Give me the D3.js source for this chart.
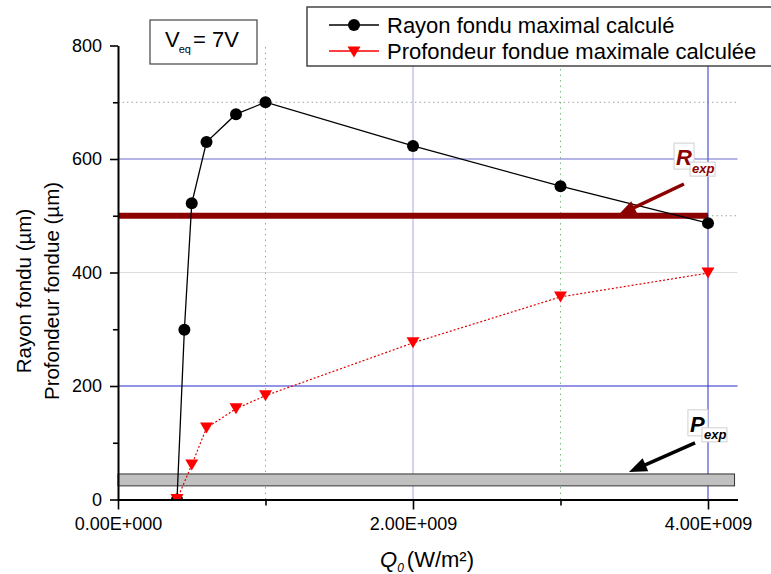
<!DOCTYPE html>
<html><head><meta charset="utf-8">
<script src="https://cdn.jsdelivr.net/npm/d3@7"></script>
<style>body{margin:0;background:#fff} svg{display:block} text{font-family:Arial,"Liberation Sans",sans-serif}</style>
</head><body><svg id="c" width="771" height="574"></svg>
<script>
// ---- data ----
const qRayon = [0.4e9, 0.45e9, 0.5e9, 0.6e9, 0.8e9, 1e9, 2e9, 3e9, 4e9];
const rayon = [0, 299, 522, 630, 679, 700, 623, 552, 487];
const qProf = [0.4e9, 0.5e9, 0.6e9, 0.8e9, 1e9, 2e9, 3e9, 4e9];
const profondeur = [0, 61, 126, 160, 183, 276, 357, 399];
const rExp = 500;          // R_exp level (µm)
const rExpRange = [0, 4e9];
const pExpBand = [24, 45]; // P_exp band (µm)
const pExpRange = [0, 4.18e9];
const xTicks = [0, 2e9, 4e9];
const xTickLabels = ["0.00E+000", "2.00E+009", "4.00E+009"];
const xMinorTicks = [1e9, 3e9];
const yTicks = [0, 200, 400, 600, 800];
const yTickLabels = ["0", "200", "400", "600", "800"];
const yMinorTicks = [100, 300, 500, 700];
const gridBlueY = [200, 600];
const gridGrayY = [400];
const gridDotY = [500, 700];
const gridBlueX = [2e9, 4e9];
const gridGreenX = [1e9, 3e9];
const seriesNames = ["Rayon fondu maximal calculé", "Profondeur fondue maximale calculée"];
// annotation arrows: [x1,y1,x2(tip),y2(tip)] in data units
const rArrow = [3.837e9, 556, 3.39e9, 501];
const pArrow = [3.912e9, 99.6, 3.464e9, 48.5];
const rLabelAt = [3.77e9, 628];
const pLabelAt = [3.864e9, 158];

const svg = d3.select("#c");
const x = d3.scaleLinear().domain([0, 4.2e9]).range([118, 737.5]);
const y = d3.scaleLinear().domain([0, 800]).range([499.5, 45.5]);
const X0 = x.range()[0], X1 = x.range()[1], Y0 = y.range()[0], Y1 = y.range()[1];

svg.append("defs").append("clipPath").attr("id","clip")
  .append("rect").attr("x", X0).attr("y", 0).attr("width", X1 - X0 + 10).attr("height", Y0);

// ---- grid ----
const g = svg.append("g");
g.selectAll(".gy").data(gridDotY).join("line")
  .attr("x1", X0).attr("x2", X1).attr("y1", d => y(d)).attr("y2", d => y(d))
  .attr("stroke", "#9aa79a").attr("stroke-width", 1).attr("stroke-dasharray", "1.5,3");
g.selectAll(".gg").data(gridGrayY).join("line")
  .attr("x1", X0).attr("x2", X1).attr("y1", d => y(d)).attr("y2", d => y(d))
  .attr("stroke", "#dddddd").attr("stroke-width", 1);
g.selectAll(".gx").data(gridGreenX).join("line")
  .attr("y1", Y0).attr("y2", Y1).attr("x1", d => x(d)).attr("x2", d => x(d))
  .attr("stroke", "#7fb87f").attr("stroke-width", 1).attr("stroke-dasharray", "1.5,4");
g.selectAll(".bx").data(gridBlueX).join("line")
  .attr("y1", Y0).attr("y2", Y1).attr("x1", d => x(d)).attr("x2", d => x(d))
  .attr("stroke", (d,i) => i === 0 ? "#b4b4ea" : "#5050d0").attr("stroke-width", 1.2);
g.selectAll(".by").data(gridBlueY).join("line")
  .attr("x1", X0).attr("x2", X1).attr("y1", d => y(d)).attr("y2", d => y(d))
  .attr("stroke", (d,i) => i === 0 ? "#2a2ad0" : "#6a6ad0").attr("stroke-width", 1.2);

// ---- experimental bands ----
svg.append("rect")
  .attr("x", x(pExpRange[0])).attr("width", x(pExpRange[1]) - x(pExpRange[0]))
  .attr("y", y(pExpBand[1])).attr("height", y(pExpBand[0]) - y(pExpBand[1]))
  .attr("fill", "#c0c0c0").attr("stroke", "#333").attr("stroke-width", 1);
svg.append("line")
  .attr("x1", x(rExpRange[0])).attr("x2", x(rExpRange[1]))
  .attr("y1", y(rExp)).attr("y2", y(rExp))
  .attr("stroke", "#8b0000").attr("stroke-width", 6);

// ---- series ----
const plot = svg.append("g").attr("clip-path", "url(#clip)");
const line = d3.line().x(d => x(d[0])).y(d => y(d[1]));
const profData = qProf.map((q, i) => [q, profondeur[i]]);
const rayData = qRayon.map((q, i) => [q, rayon[i]]);
plot.append("path").datum(profData).attr("d", line)
  .attr("fill", "none").attr("stroke", "#e00000").attr("stroke-width", 1.2).attr("stroke-dasharray", "2,2");
plot.append("path").datum(rayData).attr("d", line)
  .attr("fill", "none").attr("stroke", "#000").attr("stroke-width", 1.3);
plot.selectAll(".dot").data(rayData).join("circle")
  .attr("cx", d => x(d[0])).attr("cy", d => y(d[1])).attr("r", 6).attr("fill", "#000");
const tri = (cx, cy, w, h) => `M${cx - w/2},${cy - h/2}L${cx + w/2},${cy - h/2}L${cx},${cy + h/2}Z`;
plot.selectAll(".tri").data(profData).join("path")
  .attr("d", d => tri(x(d[0]), y(d[1]), 13, 11)).attr("fill", "#ff0000");

// ---- axes ----
const ax = svg.append("g");
ax.append("g").attr("transform", `translate(${X0},0)`)
  .call(d3.axisLeft(y).tickValues(yTicks).tickFormat((d,i) => yTickLabels[i]).tickSize(8).tickSizeOuter(0).tickPadding(8));
ax.append("g").attr("transform", `translate(${X0},0)`)
  .call(d3.axisLeft(y).tickValues(yMinorTicks).tickFormat("").tickSize(5).tickSizeOuter(0))
  .select(".domain").remove();
ax.append("g").attr("transform", `translate(0,${Y0})`)
  .call(d3.axisBottom(x).tickValues(xTicks).tickFormat((d,i) => xTickLabels[i]).tickSize(10).tickSizeOuter(0).tickPadding(8));
ax.append("g").attr("transform", `translate(0,${Y0})`)
  .call(d3.axisBottom(x).tickValues(xMinorTicks).tickFormat("").tickSize(6).tickSizeOuter(0))
  .select(".domain").remove();
ax.selectAll(".domain").attr("stroke", "#000").attr("stroke-width", 2);
ax.selectAll(".tick line").attr("stroke", "#000").attr("stroke-width", 1.6);
ax.selectAll(".tick text").attr("fill", "#000").style("font-size", "18px")
  .style("font-family", 'Arial,"Liberation Sans",sans-serif');

// axis titles
const yt = svg.append("text").attr("transform", "translate(0,291) rotate(-90)")
  .attr("text-anchor", "middle").style("font-size", "20.5px").attr("fill", "#000");
yt.append("tspan").attr("x", 0).attr("y", 31).text("Rayon fondu (µm)");
yt.append("tspan").attr("x", 0).attr("y", 59).text("Profondeur fondue (µm)");

const xt = svg.append("text").attr("x", 380).attr("y", 567).style("font-size", "22px").attr("fill", "#000");
xt.append("tspan").style("font-style", "italic").text("Q");
xt.append("tspan").style("font-style", "italic").style("font-size", "12px").attr("dx", 0).attr("dy", 5).text("0");
xt.append("tspan").attr("dx", 3).attr("dy", -5).text("(W/m²)");

// ---- annotations ----
function arrow(a, color) {
  const x1 = x(a[0]), y1 = y(a[1]), x2 = x(a[2]), y2 = y(a[3]);
  const ang = Math.atan2(y2 - y1, x2 - x1), L = 18, W = 7;
  const bx = x2 - L * Math.cos(ang), by = y2 - L * Math.sin(ang);
  svg.append("line").attr("x1", x1).attr("y1", y1).attr("x2", bx + 2*Math.cos(ang)).attr("y2", by + 2*Math.sin(ang))
    .attr("stroke", color).attr("stroke-width", 3.5);
  svg.append("path").attr("d", `M${x2},${y2}L${bx - W*Math.sin(ang)},${by + W*Math.cos(ang)}L${bx + W*Math.sin(ang)},${by - W*Math.cos(ang)}Z`)
    .attr("fill", color);
}
function label(at, main, color, sx, sy) {
  const lx = x(at[0]), ly = y(at[1]);
  svg.append("rect").attr("x", lx).attr("y", ly).attr("width", 20).attr("height", 26)
    .attr("fill", "#fff").attr("stroke", "#cfcfcf");
  svg.append("rect").attr("x", lx + sx).attr("y", ly + sy).attr("width", 25).attr("height", 14)
    .attr("fill", "#fff").attr("stroke", "#cfcfcf");
  svg.append("text").attr("x", lx + 2).attr("y", ly + 22).style("font-size", "22px")
    .style("font-weight", "bold").style("font-style", "italic").attr("fill", color).text(main);
  svg.append("text").attr("x", lx + sx + 2).attr("y", ly + sy + 11).style("font-size", "13px")
    .style("font-weight", "bold").style("font-style", "italic").attr("fill", color).text("exp");
}
arrow(rArrow, "#8b0000");
arrow(pArrow, "#000");
label(rLabelAt, "R", "#8b0000", 16, 19);
label(pLabelAt, "P", "#000", 14, 18);

// V_eq box
svg.append("rect").attr("x", 150).attr("y", 20).attr("width", 107).attr("height", 44)
  .attr("fill", "#fff").attr("stroke", "#444").attr("stroke-width", 1.2);
const vt = svg.append("text").attr("x", 165).attr("y", 47).style("font-size", "22px").attr("fill", "#000");
vt.append("tspan").text("V");
vt.append("tspan").style("font-size", "11px").attr("dx", -1).attr("dy", 6).text("eq");
vt.append("tspan").attr("dx", 2).attr("dy", -6).text("= 7V");

// legend
const lg = svg.append("g");
lg.append("rect").attr("x", 307).attr("y", 7).attr("width", 470).attr("height", 59)
  .attr("fill", "#fff").attr("stroke", "#444").attr("stroke-width", 1.5);
const rows = [{y: 25, c: "#000"}, {y: 51, c: "#ff0000"}];
rows.forEach((r, i) => {
  lg.append("line").attr("x1", 329).attr("x2", 379).attr("y1", r.y).attr("y2", r.y)
    .attr("stroke", r.c).attr("stroke-width", 1.3);
  if (i === 0) lg.append("circle").attr("cx", 354).attr("cy", r.y).attr("r", 6).attr("fill", "#000");
  else lg.append("path").attr("d", tri(354, r.y + 1, 13, 11)).attr("fill", "#ff0000");
  lg.append("text").attr("x", 387).attr("y", r.y + 8).style("font-size", "22px").attr("fill", "#000").text(seriesNames[i]);
});
</script></body></html>
